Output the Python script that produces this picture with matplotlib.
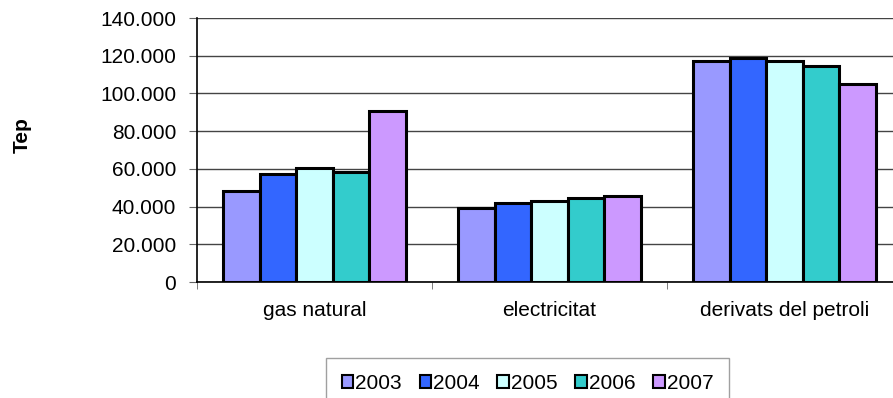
import numpy as np
import matplotlib
matplotlib.use('Agg')
import matplotlib.pyplot as plt
from matplotlib.patches import Patch
from matplotlib.ticker import FuncFormatter

plt.rcParams['font.family'] = ['Liberation Sans', 'DejaVu Sans']

categories = ['gas natural', 'electricitat', 'derivats del petroli']
years = ['2003', '2004', '2005', '2006', '2007']
values = {
    '2003': [48000, 39500, 117300],
    '2004': [57100, 41700, 118700],
    '2005': [60400, 43100, 117200],
    '2006': [58500, 44300, 114500],
    '2007': [90700, 45600, 105000],
}
colors = ['#9999FF', '#3366FF', '#CCFFFF', '#33CCCC', '#CC99FF']

fig = plt.figure(figsize=(8.93, 3.98), dpi=100)
ax = fig.add_axes([197/893, 116/398, 705/893, 264/398])

x = np.arange(len(categories))
w = 0.155
for k, yr in enumerate(years):
    ax.bar(x + (k - 2) * w, values[yr], width=w, color=colors[k],
           edgecolor='black', linewidth=2.2, zorder=3)

ax.set_xlim(-0.5, 2.5)
ax.set_ylim(0, 140000)
ax.set_yticks(range(0, 140001, 20000))
ax.yaxis.set_major_formatter(FuncFormatter(lambda v, p: f'{int(v):,}'.replace(',', '.')))
ax.grid(axis='y', color='#444444', linewidth=1, zorder=0)
ax.set_axisbelow(True)

ax.set_xticks(x)
ax.set_xticklabels(categories)
ax.set_xticks([-0.5, 0.5, 1.5, 2.5], minor=True)
ax.tick_params(axis='x', which='major', length=0, pad=14, labelsize=15)
ax.tick_params(axis='x', which='minor', length=5, color='#666666')
ax.tick_params(axis='y', length=6, color='#666666', labelsize=15, pad=9)

for s in ['top', 'right']:
    ax.spines[s].set_visible(False)
ax.spines['left'].set_linewidth(1.2)
ax.spines['bottom'].set_linewidth(1.2)

fig.text(22/893, 263/398, 'Tep', fontsize=15, fontweight='bold', rotation=90,
         ha='center', va='center')

handles = [Patch(facecolor=c, edgecolor='black', linewidth=1.5) for c in colors]
leg = fig.legend(handles, years, loc='upper left', bbox_to_anchor=(326/893, 40/398),
                 ncol=5, fontsize=15, frameon=True, fancybox=False,
                 edgecolor='#888888', handlelength=0.55, handleheight=0.55,
                 handletextpad=0.1, columnspacing=0.85, borderpad=0.75,
                 borderaxespad=0)
leg.get_frame().set_linewidth(1)

fig.savefig('out.png', dpi=100)
